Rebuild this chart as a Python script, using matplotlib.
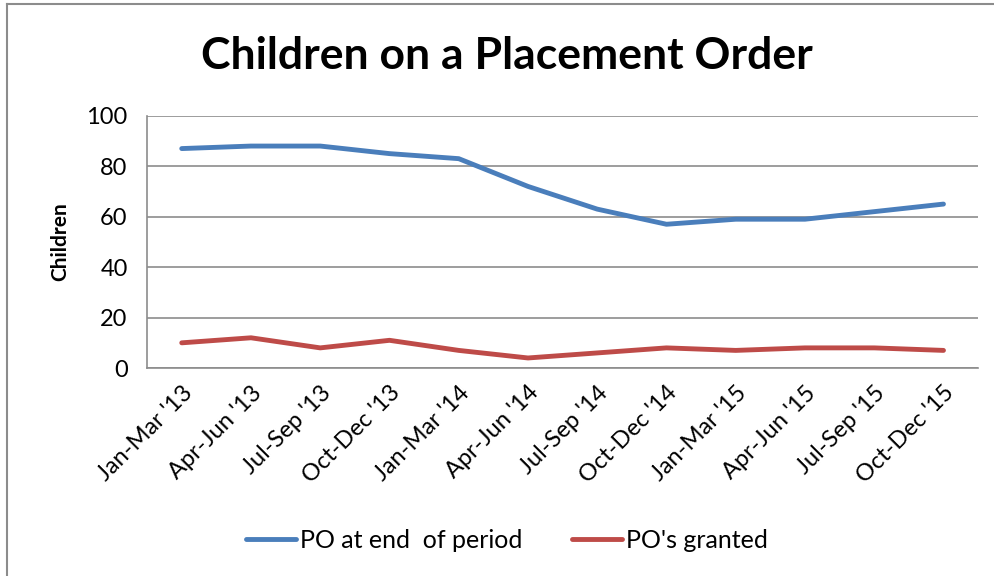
import matplotlib.pyplot as plt
from matplotlib.lines import Line2D

plt.rcParams['font.family'] = ['Lato', 'DejaVu Sans']

periods = ["Jan-Mar '13", "Apr-Jun '13", "Jul-Sep '13", "Oct-Dec '13",
           "Jan-Mar '14", "Apr-Jun '14", "Jul-Sep '14", "Oct-Dec '14",
           "Jan-Mar '15", "Apr-Jun '15", "Jul-Sep '15", "Oct-Dec '15"]
po_end = [87, 88, 88, 85, 83, 72, 63, 57, 59, 59, 62, 65]
po_granted = [10, 12, 8, 11, 7, 4, 6, 8, 7, 8, 8, 7]

fig = plt.figure(figsize=(9.94, 5.76), dpi=100)
ax = fig.add_axes([0.148, 0.361, 0.836, 0.438])

x = list(range(len(periods)))
ax.plot(x, po_end, color="#4a7ebb", lw=3.5, solid_capstyle="round", label="PO at end  of period")
ax.plot(x, po_granted, color="#be4b48", lw=3.5, solid_capstyle="round", label="PO's granted")

ax.set_xlim(-0.5, len(periods) - 0.5)
ax.set_ylim(0, 100)
ax.set_yticks(range(0, 101, 20))
ax.set_xticks(x)
ax.set_xticklabels(periods, rotation=45, ha="right", rotation_mode="anchor", fontsize=17)
ax.tick_params(axis="y", labelsize=17, length=0, pad=14)
ax.tick_params(axis="x", length=0, pad=10)
ax.grid(axis="y", color="#8c8c8c", lw=1.2)
ax.set_axisbelow(True)
for s in ["top", "right"]:
    ax.spines[s].set_visible(False)
for s in ["left", "bottom"]:
    ax.spines[s].set_color("#8c8c8c")
    ax.spines[s].set_linewidth(1.2)

ax.set_ylabel("Children", fontsize=15, fontweight="bold", labelpad=12)
fig.text(0.51, 0.902, "Children on a Placement Order", ha="center", va="center",
         fontsize=32, fontweight="bold")

handles = [Line2D([], [], color="#4a7ebb", lw=3.5, solid_capstyle="round"),
           Line2D([], [], color="#be4b48", lw=3.5, solid_capstyle="round")]
fig.legend(handles, ["PO at end  of period", "PO's granted"], loc="center",
           bbox_to_anchor=(0.51, 0.062), ncol=2, frameon=False, fontsize=18,
           handlelength=2.0, handletextpad=0.15, columnspacing=2.0)

# chart frame (left and top edges)
fig.add_artist(Line2D([7 / 994, 7 / 994], [0, 1 - 4 / 576], color="#8c8c8c", lw=1.5,
                      transform=fig.transFigure))
fig.add_artist(Line2D([7 / 994, 1], [1 - 4 / 576, 1 - 4 / 576], color="#8c8c8c", lw=1.5,
                      transform=fig.transFigure))

fig.savefig("out.png", dpi=100)
